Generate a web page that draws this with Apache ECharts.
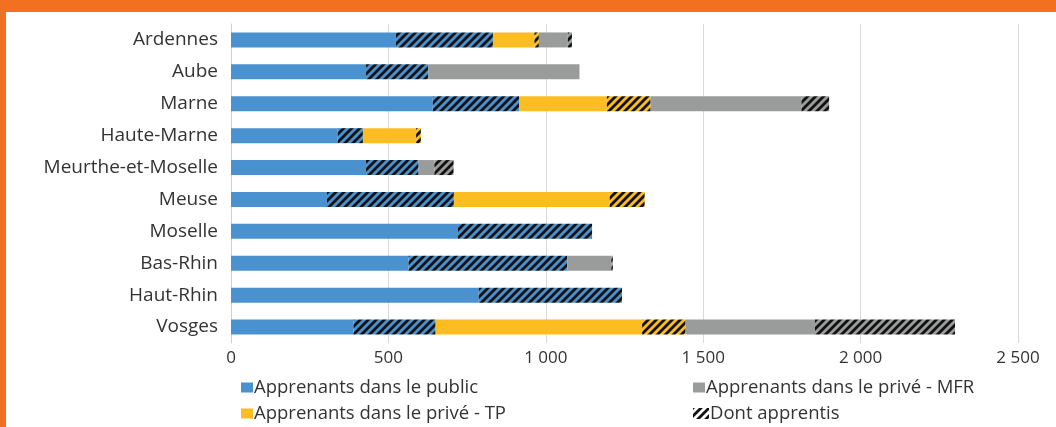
<!DOCTYPE html>
<html>
<head>
<meta charset="utf-8">
<script src="https://cdn.jsdelivr.net/npm/echarts@6/dist/echarts.min.js"></script>
<style>
html,body{margin:0;padding:0;background:#fff;}
#chart{width:1056px;height:427px;}
</style>
</head>
<body>
<div id="chart"></div>
<script>
// départements (haut -> bas)
var departements = ['Ardennes', 'Aube', 'Marne', 'Haute-Marne', 'Meurthe-et-Moselle', 'Meuse', 'Moselle', 'Bas-Rhin', 'Haut-Rhin', 'Vosges'];

// public : hors apprentis / dont apprentis
var publicHors = [524, 429, 641, 339, 429, 305, 721, 564, 787, 389];
var publicApp = [308, 198, 274, 80, 167, 403, 426, 504, 455, 261];
// privé TP
var tpHors = [132, 0, 279, 169, 0, 495, 0, 0, 0, 656];
var tpApp = [14, 0, 139, 15, 0, 111, 0, 0, 0, 138];
// privé MFR
var mfrHors = [92, 480, 479, 0, 50, 0, 0, 140, 0, 411];
var mfrApp = [13, 0, 88, 0, 61, 0, 0, 5, 0, 445];

var xTicks = [0, 500, 1000, 1500, 2000, 2500];

var BLEU = '#4a91cf', JAUNE = '#fbbd22', GRIS = '#9a9c9b';
var FONT = 'Open Sans';

// motif hachuré
function hachure(fond) {
	var c = document.createElement('canvas');
	c.width = 8; c.height = 8;
	var g = c.getContext('2d');
	g.fillStyle = fond;
	g.fillRect(0, 0, 8, 8);
	g.strokeStyle = '#111';
	g.lineWidth = 2.8;
	g.beginPath();
	g.moveTo(-2, 10); g.lineTo(10, -2);
	g.moveTo(-6, 6); g.lineTo(6, -6);
	g.moveTo(2, 14); g.lineTo(14, 2);
	g.stroke();
	return {image: c, repeat: 'repeat'};
}

function serie(nom, data, couleur) {
	return {
		name: nom,
		type: 'bar',
		stack: 'total',
		barWidth: 15,
		data: data,
		itemStyle: {color: couleur},
		emphasis: {disabled: true}
	};
}

var dom = document.getElementById('chart');
var myChart = echarts.init(dom);

function legende(nom, left, top, icone) {
	var item = {name: nom};
	if (icone) item.itemStyle = {color: icone};
	return {
		data: [item],
		left: left,
		top: top,
		icon: 'rect',
		itemWidth: icone ? 16 : 12,
		itemHeight: icone ? 11 : 10,
		itemGap: 0,
		selectedMode: false,
		textStyle: {fontFamily: FONT, fontSize: 18.5, color: '#333', padding: [0, 0, 0, -4]}
	};
}

var option = {
	animation: false,
	textStyle: {fontFamily: FONT},
	graphic: [
		{type: 'rect', shape: {x: 0, y: 0, width: 1056, height: 12}, style: {fill: '#f37021'}, silent: true},
		{type: 'rect', shape: {x: 0, y: 0, width: 6, height: 427}, style: {fill: '#f37021'}, silent: true}
	],
	grid: {left: 231, right: 38, top: 24, bottom: 84},
	legend: [
		legende('Apprenants dans le public', 236, 373),
		legende('Apprenants dans le privé - MFR', 688, 373),
		legende('Apprenants dans le privé - TP', 236, 399),
		legende('Dont apprentis', 688, 399, hachure('#ffffff'))
	],
	xAxis: {
		type: 'value',
		min: xTicks[0],
		max: xTicks[xTicks.length - 1],
		interval: 500,
		axisLine: {show: false},
		axisTick: {show: false},
		splitLine: {lineStyle: {color: '#d9d9d9', width: 1}},
		axisLabel: {
			fontFamily: FONT, fontSize: 17, color: '#333', margin: 7,
			formatter: function (v) { return String(v).replace(/\B(?=(\d{3})+(?!\d))/g, ' '); }
		}
	},
	yAxis: {
		type: 'category',
		inverse: true,
		data: departements,
		axisLine: {show: true, lineStyle: {color: '#d0d0d0'}},
		axisTick: {show: false},
		axisLabel: {fontFamily: FONT, fontSize: 19, color: '#333', margin: 13}
	},
	series: [
		serie('Apprenants dans le public', publicHors, BLEU),
		serie('Dont apprentis', publicApp, hachure(BLEU)),
		serie('Apprenants dans le privé - TP', tpHors, JAUNE),
		serie('Dont apprentis', tpApp, hachure(JAUNE)),
		serie('Apprenants dans le privé - MFR', mfrHors, GRIS),
		serie('Dont apprentis', mfrApp, hachure(GRIS))
	]
};
myChart.setOption(option);
</script>
</body>
</html>
